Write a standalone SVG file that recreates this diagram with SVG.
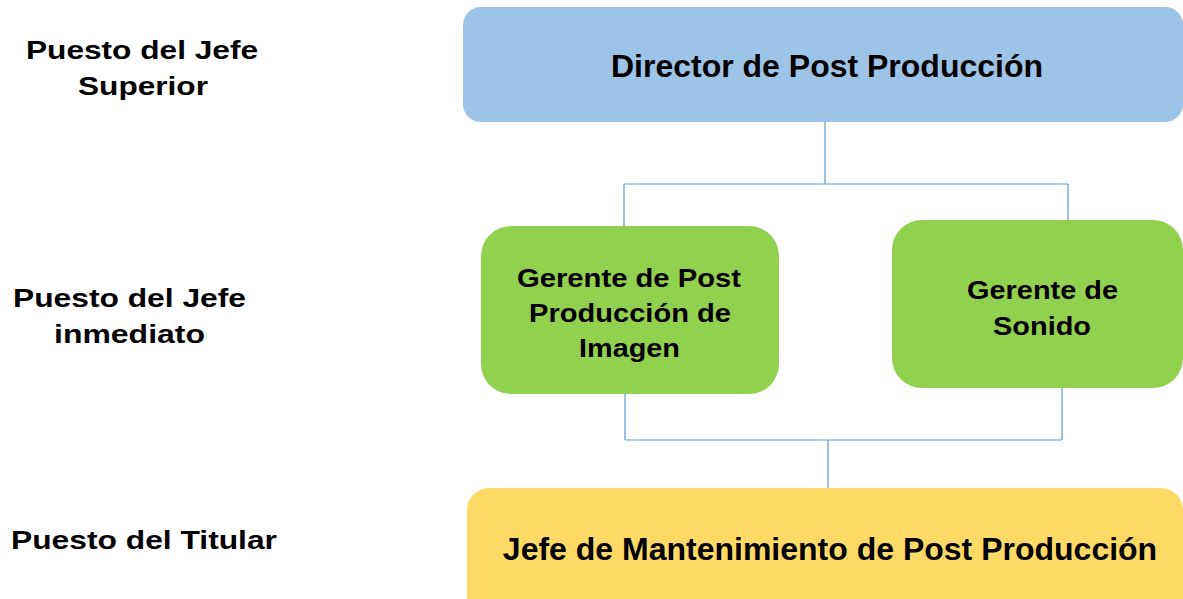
<svg xmlns="http://www.w3.org/2000/svg" width="1183" height="599" viewBox="0 0 1183 599">
  <style>
    text { font-family: "Liberation Sans", Arial, sans-serif; font-weight: bold; fill: #000; text-anchor: middle; }
    .lbl { font-size: 26px; }
    .big { font-size: 32px; }
    .mid { font-size: 26px; }
    .blue { fill: #9DC3E6; }
    .green { fill: #92D050; }
    .yellow { fill: #FFD966; }
    .conn { fill: none; stroke: #5B9BD5; stroke-width: 1.2; }
  </style>

  <rect width="1183" height="599" fill="#fff"/>

  <!-- level labels -->
  <g id="labels">
    <text class="lbl" x="142" y="59" textLength="232" lengthAdjust="spacingAndGlyphs">Puesto del Jefe</text>
    <text class="lbl" x="143" y="95" textLength="130" lengthAdjust="spacingAndGlyphs">Superior</text>
    <text class="lbl" x="129.5" y="307" textLength="233" lengthAdjust="spacingAndGlyphs">Puesto del Jefe</text>
    <text class="lbl" x="129.5" y="343" textLength="151" lengthAdjust="spacingAndGlyphs">inmediato</text>
    <text class="lbl" x="144" y="549" textLength="266" lengthAdjust="spacingAndGlyphs">Puesto del Titular</text>
  </g>

  <!-- connectors -->
  <g id="connectors">
    <path class="conn" d="M825,122 V184 M624,184 H1068 M624,184 V227 M1068,184 V221"/>
    <path class="conn" d="M625,394 V440 M1062,388 V440 M625,440 H1062 M828,440 V489"/>
  </g>

  <g id="director">
    <rect class="blue" x="463" y="7" width="720" height="115" rx="18"/>
    <text class="big" x="827" y="77">Director de Post Producción</text>
  </g>

  <g id="gerente-imagen">
    <rect class="green" x="481" y="226" width="298" height="168" rx="30"/>
    <text class="mid" x="629" y="287" textLength="224" lengthAdjust="spacingAndGlyphs">Gerente de Post</text>
    <text class="mid" x="630" y="322" textLength="202" lengthAdjust="spacingAndGlyphs">Producción de</text>
    <text class="mid" x="629.5" y="357" textLength="101" lengthAdjust="spacingAndGlyphs">Imagen</text>
  </g>

  <g id="gerente-sonido">
    <rect class="green" x="892" y="220" width="291" height="168" rx="30"/>
    <text class="mid" x="1042.5" y="299" textLength="151" lengthAdjust="spacingAndGlyphs">Gerente de</text>
    <text class="mid" x="1042" y="335" textLength="98" lengthAdjust="spacingAndGlyphs">Sonido</text>
  </g>

  <g id="jefe-mantenimiento">
    <rect class="yellow" x="467" y="488" width="716" height="140" rx="22"/>
    <text class="big" x="830" y="560">Jefe de Mantenimiento de Post Producción</text>
  </g>
</svg>
